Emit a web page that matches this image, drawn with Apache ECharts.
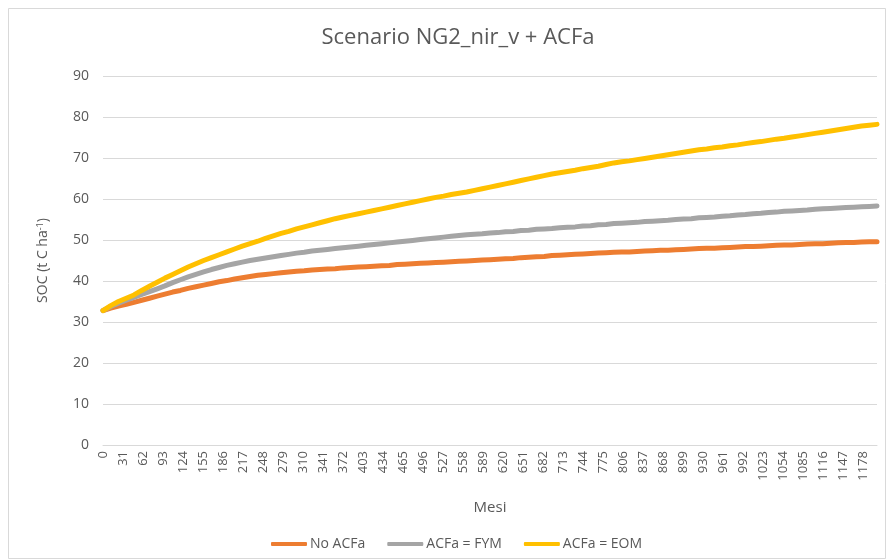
<!DOCTYPE html>
<html>
<head>
<meta charset="utf-8">
<script src="https://cdn.jsdelivr.net/npm/echarts@6/dist/echarts.min.js"></script>
<style>
html,body{margin:0;padding:0;background:#fff;}
#chart{width:887px;height:560px;}
</style>
</head>
<body>
<div id="chart"></div>
<script>
// Month index of each reading (one reading per year, months 0..1200)
const years = Array.from({length: 101}, (_, i) => i);
const months = years.map(y => y * 12);
const xTickStep = 31;

const seriesNames = ['No ACFa', 'ACFa = FYM', 'ACFa = EOM'];

const noACFa = [32.8,33.4,33.9,34.3,34.8,35.3,35.8,36.3,36.8,37.3,
  37.7,38.2,38.6,39.0,39.4,39.8,40.1,40.5,40.8,41.1,
  41.4,41.6,41.8,42.0,42.2,42.4,42.5,42.7,42.8,42.9,
  43.0,43.2,43.3,43.4,43.5,43.6,43.7,43.8,44.0,44.1,
  44.2,44.3,44.4,44.5,44.6,44.7,44.8,44.9,45.0,45.1,
  45.2,45.3,45.4,45.5,45.7,45.8,45.9,46.0,46.2,46.3,
  46.4,46.5,46.6,46.7,46.8,46.9,47.0,47.1,47.1,47.2,
  47.3,47.4,47.5,47.5,47.6,47.7,47.8,47.9,48.0,48.0,
  48.1,48.2,48.3,48.4,48.4,48.5,48.6,48.7,48.8,48.8,
  48.9,49.0,49.1,49.1,49.2,49.3,49.4,49.4,49.5,49.6,49.6];

const acfaFYM = [32.8,33.8,34.6,35.3,36.0,36.7,37.4,38.1,38.8,39.6,
  40.3,41.0,41.6,42.2,42.8,43.3,43.8,44.2,44.6,45.0,
  45.3,45.6,45.9,46.2,46.5,46.8,47.0,47.3,47.5,47.7,
  47.9,48.1,48.3,48.5,48.7,48.9,49.1,49.3,49.5,49.7,
  49.9,50.1,50.3,50.5,50.7,50.9,51.1,51.3,51.4,51.5,
  51.7,51.8,52.0,52.1,52.3,52.4,52.6,52.7,52.8,53.0,
  53.1,53.2,53.4,53.5,53.7,53.8,54.0,54.1,54.2,54.3,
  54.5,54.6,54.7,54.8,55.0,55.1,55.2,55.4,55.5,55.6,
  55.8,55.9,56.1,56.2,56.4,56.5,56.7,56.8,57.0,57.1,
  57.2,57.3,57.5,57.6,57.7,57.8,57.9,58.0,58.1,58.2,58.3];

const acfaEOM = [32.8,34.0,35.0,35.8,36.6,37.7,38.7,39.7,40.7,41.6,
  42.5,43.4,44.2,45.0,45.7,46.4,47.1,47.8,48.5,49.1,
  49.7,50.4,51.0,51.6,52.1,52.7,53.2,53.7,54.2,54.7,
  55.2,55.6,56.0,56.4,56.8,57.2,57.6,58.0,58.4,58.8,
  59.2,59.6,60.0,60.4,60.7,61.1,61.4,61.7,62.1,62.5,
  62.9,63.3,63.7,64.1,64.5,64.9,65.3,65.7,66.1,66.4,
  66.7,67.0,67.4,67.7,68.0,68.4,68.8,69.1,69.3,69.6,
  69.9,70.2,70.5,70.8,71.1,71.4,71.7,72.0,72.2,72.5,
  72.7,73.0,73.2,73.5,73.8,74.0,74.3,74.6,74.8,75.1,
  75.4,75.7,76.0,76.3,76.6,76.9,77.2,77.5,77.8,78.0,78.2];

const colors = ['#ED7D31', '#A5A5A5', '#FFC000'];
const allSeries = [noACFa, acfaFYM, acfaEOM];

const FONT = '"Open Sans", "Noto Sans", sans-serif';
const TXT = '#595959';

const chart = echarts.init(document.getElementById('chart'), null, {renderer: 'canvas'});

chart.setOption({
  animation: false,
  backgroundColor: '#ffffff',
  textStyle: {fontFamily: FONT, color: TXT},
  graphic: [{
    type: 'rect',
    shape: {x: 8.5, y: 8.5, width: 877, height: 550},
    style: {fill: 'none', stroke: '#D9D9D9', lineWidth: 1},
    silent: true, z: -1
  }],
  title: {
    text: 'Scenario NG2_nir_v + ACFa',
    left: 453,
    textAlign: 'center',
    top: 22,
    textStyle: {fontFamily: FONT, fontSize: 22, fontWeight: 'normal', color: TXT}
  },
  legend: {
    left: 266,
    top: 532,
    icon: 'roundRect',
    itemWidth: 36,
    itemHeight: 4,
    itemGap: 22,
    textStyle: {fontFamily: FONT, fontSize: 14, color: TXT, padding: [0,0,0,-2]},
    data: seriesNames
  },
  grid: {left: 103, right: 10, top: 76, bottom: 115, containLabel: false},
  xAxis: {
    type: 'value',
    min: 0,
    max: 1200,
    interval: xTickStep,
    name: 'Mesi',
    nameLocation: 'middle',
    nameGap: 55,
    nameTextStyle: {fontFamily: FONT, fontSize: 15, color: TXT},
    axisLine: {show: true, lineStyle: {color: '#D9D9D9', width: 1}},
    axisTick: {show: false},
    splitLine: {show: false},
    axisLabel: {
      rotate: 90,
      fontFamily: FONT,
      fontSize: 13,
      color: TXT,
      margin: 6,
      showMaxLabel: false,
      formatter: v => String(v)
    }
  },
  yAxis: {
    type: 'value',
    min: 0,
    max: 90,
    interval: 10,
    name: 'SOC (t C ha{sup|-1})',
    nameLocation: 'middle',
    nameGap: 52,
    nameRotate: 90,
    nameTextStyle: {
      fontFamily: FONT, fontSize: 14, color: TXT,
      rich: {sup: {fontFamily: FONT, fontSize: 9, color: TXT, verticalAlign: 'top', padding: [0,0,6,0]}}
    },
    axisLine: {show: false},
    axisTick: {show: false},
    splitLine: {show: true, lineStyle: {color: '#D9D9D9', width: 1}},
    axisLabel: {fontFamily: FONT, fontSize: 14, color: TXT, margin: 14}
  },
  series: allSeries.map((vals, k) => ({
    name: seriesNames[k],
    type: 'line',
    showSymbol: false,
    symbol: 'none',
    smooth: false,
    color: colors[k],
    lineStyle: {color: colors[k], width: 5, cap: 'round', join: 'round'},
    data: vals.map((v, i) => [months[i], v])
  }))
});
</script>
</body>
</html>
